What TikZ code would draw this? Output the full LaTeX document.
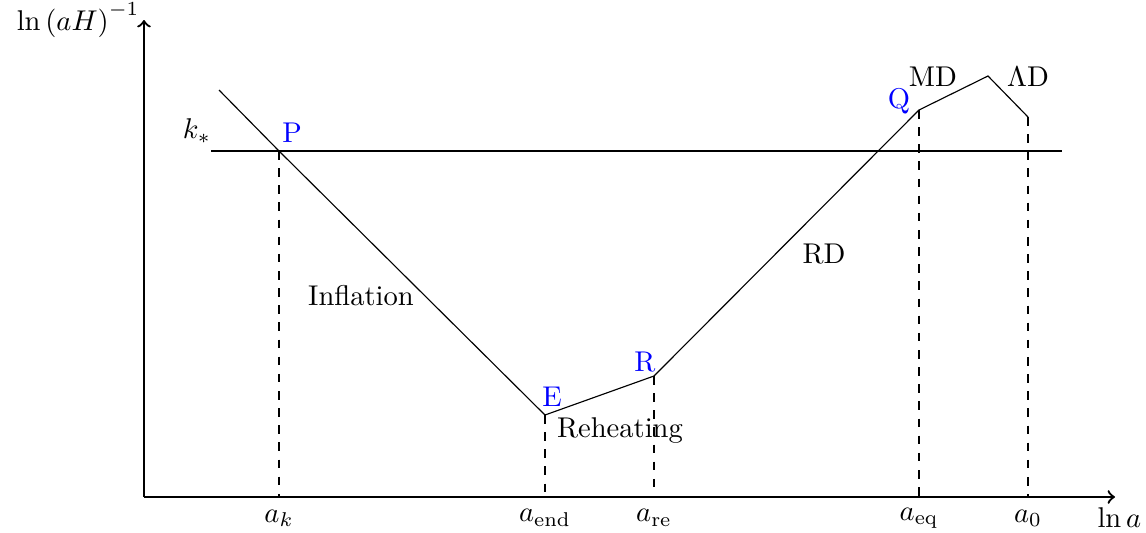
\documentclass[tikz,border=0pt]{standalone}
\usepackage{amsmath}
\begin{document}
\begin{tikzpicture}[x=0.35pt,y=-0.35pt,
  axis/.style={thick,->},
  curve/.style={thin},
  guide/.style={thin,dashed},
  lbl/.style={inner sep=0pt},
  pt/.style={inner sep=0pt,text=blue}]
\useasboundingbox (0,0) rectangle (1146,532);
% axes
\coordinate (O) at (144,497);
\coordinate (Ytop) at (144,20);
\coordinate (Xend) at (1115,497);
\draw[axis] (O) -- (Ytop);
\draw[axis] (O) -- (Xend);
\node[lbl,anchor=east] (ylab) at (140,20) {$\ln{(aH)}^{-1}$};
\node[lbl,anchor=west] (xlab) at (1097,518) {$\ln a$};
% curve points
\coordinate (S) at (219,90);
\coordinate (Pp) at (279,151);
\coordinate (Ep) at (545,415);
\coordinate (Rp) at (654,376);
\coordinate (Qp) at (919,110);
\coordinate (Mp) at (988,76);
\coordinate (Zp) at (1028,117);
\draw[curve] (S) -- (Pp) -- (Ep) -- (Rp) -- (Qp) -- (Mp) -- (Zp);
% k* line
\coordinate (K1) at (211,151);
\coordinate (K2) at (1062,151);
\draw[curve] (K1) -- (K2);
% axis foot points
\coordinate (Fk) at (279,497);
\coordinate (Fe) at (545,497);
\coordinate (Fr) at (654,497);
\coordinate (Fq) at (919,497);
\coordinate (Fz) at (1028,497);
\draw[guide] (Pp) -- (Fk);
\draw[guide] (Ep) -- (Fe);
\draw[guide] (Rp) -- (Fr);
\draw[guide] (Qp) -- (Fq);
\draw[guide] (Zp) -- (Fz);
% axis labels
\node[lbl] (ak) at (279,518) {$a_k$};
\node[lbl] (aend) at (545,518) {$a_{\text{end}}$};
\node[lbl] (are) at (654,518) {$a_{\text{re}}$};
\node[lbl] (aeq) at (919,518) {$a_{\text{eq}}$};
\node[lbl] (a0) at (1028,518) {$a_0$};
\node[lbl] (ks) at (197,131) {$k_*$};
% point labels
\node[pt] (P) at (292,133) {P};
\node[pt] (E) at (552,397) {E};
\node[pt] (R) at (645,362) {R};
\node[pt] (Q) at (899,101) {Q};
% phase labels
\node[lbl] (MD) at (933,77) {MD};
\node[lbl] (LD) at (1028,77) {$\Lambda$D};
\node[lbl] (RD) at (824,254) {RD};
\node[lbl] (Inf) at (361,296) {Inflation};
\node[lbl] (Reh) at (620,431) {Reheating};
\end{tikzpicture}
\end{document}
